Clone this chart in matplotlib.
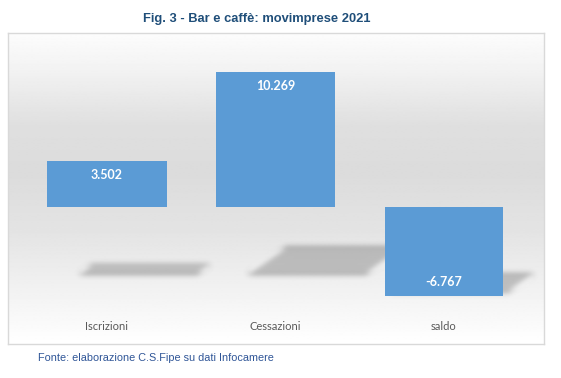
import matplotlib
matplotlib.use("Agg")
import matplotlib.pyplot as plt
import numpy as np
from matplotlib.patches import Polygon

categories = ["Iscrizioni", "Cessazioni", "saldo"]
values = [3502, 10269, -6767]
value_labels = ["3.502", "10.269", "-6.767"]

title = "Fig. 3 - Bar e caffè: movimprese 2021"
source = "Fonte: elaborazione C.S.Fipe su dati Infocamere"

BAR_COLOR = "#5B9BD5"
W, H = 561, 378


def gaussian_blur(sigma):
    r = int(3 * sigma)
    k = np.exp(-0.5 * (np.arange(-r, r + 1) / sigma) ** 2)
    k /= k.sum()

    def _filter(im, dpi):
        pad = r + 2
        out = np.pad(im, ((pad, pad), (pad, pad), (0, 0)))
        for axis in (0, 1):
            out = np.apply_along_axis(lambda v: np.convolve(v, k, mode="same"), axis, out)
        return out, -pad, -pad

    return _filter


fig = plt.figure(figsize=(W / 100, H / 100), dpi=100)
fig.patch.set_facecolor("white")

# chart box in pixels: x 8..544, y 33..344 (from top)
ax = fig.add_axes([8 / W, 1 - 344 / H, 536 / W, 311 / H])

px_per_cat = 168.5
px_per_unit = 135 / 10269
x_center0, baseline_px = 107, 207
ax.set_xlim((8 - x_center0) / px_per_cat, (544 - x_center0) / px_per_cat)
ax.set_ylim(-(344 - baseline_px) / px_per_unit, (baseline_px - 33) / px_per_unit)

# background gradient: white -> gray -> white
stops_pos = [0.0, 0.08, 0.35, 0.55, 0.70, 0.88, 1.0]
stops_val = [1.0, 0.975, 0.895, 0.86, 0.875, 0.95, 0.99]
yy = np.linspace(0, 1, 300)
grad = np.interp(yy, stops_pos, stops_val)[:, None]
ax.imshow(grad, extent=[0, 1, 1, 0], transform=ax.transAxes, cmap="gray",
          vmin=0, vmax=1, aspect="auto", zorder=0, interpolation="bilinear")

x = np.arange(len(categories))
bar_w = 119 / px_per_cat

# soft perspective shadows behind the bars
dx_unit = 1 / px_per_cat
dy_unit = 1 / px_per_unit
for xi, v in zip(x, values):
    h_px = v * px_per_unit
    near_y = -67 * dy_unit
    far_y = near_y + 0.2 * h_px * dy_unit
    shift = 1.45 * 0.2 * h_px * dx_unit
    x0 = xi - bar_w / 2 + 31 * dx_unit
    x1 = xi + bar_w / 2 + 31 * dx_unit
    poly = Polygon([(x0, near_y), (x1, near_y), (x1 + shift, far_y), (x0 + shift, far_y)],
                   closed=True, facecolor="#8c8c8c", edgecolor="none", alpha=0.5, zorder=1)
    poly.set_agg_filter(gaussian_blur(3))
    ax.add_patch(poly)

ax.bar(x, values, width=bar_w, color=BAR_COLOR, zorder=2)

for xi, v, lab in zip(x, values, value_labels):
    off = 14 / px_per_unit
    ty = v - off if v > 0 else v + off
    ax.text(xi, ty, lab, ha="center", va="center", color="white",
            fontsize=9, fontweight="bold", family="Lato", zorder=3)

for xi, cat in zip(x, categories):
    ax.text(xi, (344 - 327) / 311, cat, transform=ax.get_xaxis_transform(),
            ha="center", va="center", color="#595959", fontsize=8, family="Lato")

ax.set_xticks([])
ax.set_yticks([])
for sp in ax.spines.values():
    sp.set_color("#d9d9d9")
    sp.set_linewidth(1)

fig.text(257 / W, 1 - 19 / H, title, ha="center", va="center", color="#1F4E79",
         fontsize=9.3, fontweight="bold", family="Liberation Sans")
fig.text(38 / W, 1 - 358 / H, source, ha="left", va="center", color="#2F5597",
         fontsize=7.8, family="Liberation Sans")

fig.savefig("out.png", dpi=100, facecolor="white")
